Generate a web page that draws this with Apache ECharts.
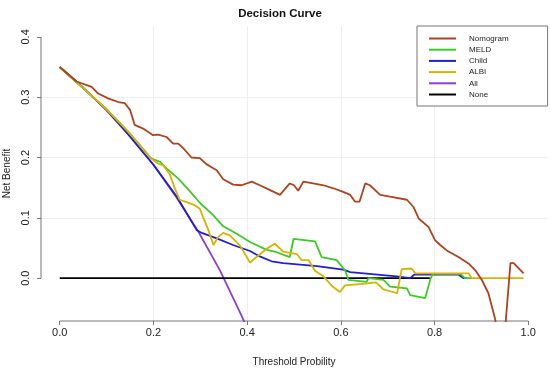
<!DOCTYPE html>
<html>
<head>
<meta charset="utf-8">
<script src="https://cdn.jsdelivr.net/npm/echarts@6/dist/echarts.min.js"></script>
<style>
html,body{margin:0;padding:0;background:#fff;}
#chart{width:550px;height:369px;}
</style>
</head>
<body>
<div id="chart"></div>
<script>
const xTicks = [0, 0.2, 0.4, 0.6, 0.8, 1.0];
const yTicks = [0, 0.1, 0.2, 0.3, 0.4];

const nomogramX = [0, 0.036, 0.068, 0.082, 0.103, 0.125, 0.139, 0.150, 0.160, 0.178, 0.199, 0.210, 0.228, 0.242, 0.253, 0.264, 0.281, 0.299, 0.313, 0.324, 0.335, 0.349, 0.370, 0.388, 0.410, 0.427, 0.449, 0.470, 0.491, 0.500, 0.509, 0.520, 0.541, 0.563, 0.584, 0.605, 0.620, 0.630, 0.640, 0.652, 0.662, 0.684, 0.705, 0.741, 0.755, 0.766, 0.787, 0.801, 0.812, 0.826, 0.851, 0.873, 0.887, 0.901, 0.915, 0.929, 0.935, 0.950, 0.962, 0.969, 0.990];
const nomogramY = [0.350, 0.326, 0.317, 0.306, 0.298, 0.292, 0.290, 0.279, 0.254, 0.248, 0.237, 0.238, 0.234, 0.223, 0.223, 0.215, 0.200, 0.199, 0.189, 0.184, 0.179, 0.164, 0.155, 0.154, 0.160, 0.154, 0.146, 0.138, 0.157, 0.154, 0.145, 0.160, 0.157, 0.154, 0.149, 0.143, 0.138, 0.127, 0.127, 0.157, 0.154, 0.138, 0.135, 0.130, 0.118, 0.099, 0.085, 0.063, 0.055, 0.046, 0.035, 0.024, 0.013, -0.003, -0.025, -0.067, -0.090, -0.090, 0.025, 0.025, 0.008];

const meldX = [0, 0.05, 0.10, 0.146, 0.196, 0.214, 0.228, 0.253, 0.278, 0.299, 0.328, 0.349, 0.377, 0.406, 0.442, 0.463, 0.491, 0.499, 0.545, 0.559, 0.591, 0.609, 0.616, 0.655, 0.659, 0.691, 0.705, 0.741, 0.748, 0.780, 0.791, 0.796, 0.855, 0.865, 0.880];
const meldY = [0.350, 0.315, 0.280, 0.243, 0.198, 0.193, 0.182, 0.165, 0.144, 0.125, 0.104, 0.086, 0.074, 0.060, 0.047, 0.043, 0.035, 0.065, 0.061, 0.035, 0.030, 0.013, -0.003, -0.006, 0.000, -0.003, -0.014, -0.017, -0.028, -0.033, -0.002, 0.007, 0.007, 0.000, 0.000];

const childX = [0, 0.05, 0.10, 0.140, 0.200, 0.250, 0.292, 0.303, 0.335, 0.370, 0.406, 0.427, 0.452, 0.477, 0.549, 0.605, 0.620, 0.719, 0.748, 0.757, 0.851, 0.862, 0.870];
const childY = [0.350, 0.315, 0.279, 0.244, 0.188, 0.135, 0.080, 0.075, 0.066, 0.055, 0.045, 0.036, 0.028, 0.025, 0.020, 0.014, 0.010, 0.003, 0.000, 0.006, 0.006, 0.000, 0.000];

const albiX = [0, 0.05, 0.10, 0.146, 0.196, 0.210, 0.221, 0.235, 0.246, 0.256, 0.271, 0.288, 0.299, 0.303, 0.317, 0.328, 0.338, 0.349, 0.363, 0.385, 0.406, 0.420, 0.442, 0.459, 0.477, 0.506, 0.516, 0.531, 0.545, 0.563, 0.581, 0.598, 0.609, 0.652, 0.675, 0.690, 0.720, 0.730, 0.751, 0.759, 0.873, 0.879, 0.990];
const albiY = [0.350, 0.315, 0.280, 0.243, 0.198, 0.190, 0.187, 0.172, 0.148, 0.130, 0.126, 0.121, 0.115, 0.107, 0.080, 0.055, 0.068, 0.075, 0.071, 0.054, 0.026, 0.035, 0.049, 0.057, 0.044, 0.040, 0.030, 0.030, 0.012, 0.003, -0.013, -0.023, -0.012, -0.009, -0.007, -0.018, -0.025, 0.015, 0.016, 0.008, 0.008, 0.000, 0.000];

const allX = [0, 0.05, 0.10, 0.15, 0.20, 0.25, 0.296, 0.342, 0.388, 0.400];
const allY = [0.350, 0.316, 0.278, 0.235, 0.188, 0.133, 0.077, 0.013, -0.062, -0.083];

const noneX = [0, 0.79];
const noneY = [0, 0];

const xMin = -0.04, xMax = 1.04, yMin = -0.071, yMax = 0.418;

function zip(xs, ys) { return xs.map((x, i) => [x, ys[i]]); }

const FONT = 'Liberation Sans, Arial, sans-serif';
const lineW = 1.8;

function ser(name, xs, ys, color, z) {
  return {
    name: name, type: 'line', data: zip(xs, ys), showSymbol: false, symbol: 'none',
    lineStyle: { color: color, width: lineW }, itemStyle: { color: color },
    z: z, animation: false, clip: true
  };
}

const chart = echarts.init(document.getElementById('chart'), null, { renderer: 'canvas' });
const axisColor = '#777';
chart.setOption({
  backgroundColor: '#fff',
  animation: false,
  title: {
    text: 'Decision Curve', left: 275, top: 2, textAlign: 'center',
    textStyle: { fontFamily: FONT, fontSize: 11.5, fontWeight: 'bold', color: '#111', lineHeight: 13 }
  },
  legend: {
    orient: 'vertical', left: 417, top: 26,
    data: ['Nomogram', 'MELD', 'Child', 'ALBI', 'All', 'None'],
    icon: 'rect', itemWidth: 27, itemHeight: 2, itemGap: 0.2,
    padding: [7, 39, 6, 12],
    borderColor: '#777', borderWidth: 1, backgroundColor: '#fff',
    textStyle: { fontFamily: FONT, fontSize: 8, color: '#222', lineHeight: 11, padding: [0, 0, 0, 8] },
    selectedMode: false
  },
  grid: { left: 41, right: 3, top: 26, bottom: 48, containLabel: false, outerBoundsMode: 'none' },
  xAxis: {
    type: 'value', min: xMin, max: xMax, position: 'bottom',
    name: 'Threshold Probility', nameLocation: 'middle', nameGap: 36,
    nameTextStyle: { fontFamily: FONT, fontSize: 10, color: '#222' },
    axisLine: { show: false, onZero: false },
    axisTick: { show: true, length: 4, lineStyle: { color: axisColor }, customValues: xTicks },
    axisLabel: { fontFamily: FONT, fontSize: 11, color: '#222', margin: 6, customValues: xTicks,
      formatter: v => v.toFixed(1) },
    splitLine: { show: true, showMinLine: false, showMaxLine: false, lineStyle: { color: '#eeeeee', width: 1 } }
  },
  yAxis: {
    type: 'value', min: yMin, max: yMax, position: 'left',
    name: 'Net Benefit', nameLocation: 'middle', nameGap: 23,
    nameTextStyle: { fontFamily: FONT, fontSize: 10, color: '#222' },
    axisLine: { show: false, onZero: false },
    axisTick: { show: true, length: 4, lineStyle: { color: axisColor }, customValues: yTicks },
    axisLabel: { fontFamily: FONT, fontSize: 11, color: '#222', margin: 10, rotate: 90, customValues: yTicks,
      formatter: v => v.toFixed(1) },
    splitLine: { show: true, showMinLine: false, showMaxLine: false, lineStyle: { color: '#eeeeee', width: 1 } }
  },
  series: [
    { name: 'axisYLine', type: 'line', data: [[xMin, yTicks[0]], [xMin, yTicks[yTicks.length - 1]]],
      showSymbol: false, symbol: 'none', clip: false, silent: true, z: 0,
      lineStyle: { color: axisColor, width: 1 } },
    { name: 'axisXLine', type: 'line', data: [[xTicks[0], yMin], [xTicks[xTicks.length - 1], yMin]],
      showSymbol: false, symbol: 'none', clip: false, silent: true, z: 0,
      lineStyle: { color: axisColor, width: 1 } },
    ser('All', allX, allY, '#8a3ee0', 2),
    ser('None', noneX, noneY, '#000000', 3),
    ser('Child', childX, childY, '#2020d0', 4),
    ser('MELD', meldX, meldY, '#3ccc28', 5),
    ser('ALBI', albiX, albiY, '#d8b400', 6),
    ser('Nomogram', nomogramX, nomogramY, '#b0421e', 7)
  ]
});
</script>
</body>
</html>
